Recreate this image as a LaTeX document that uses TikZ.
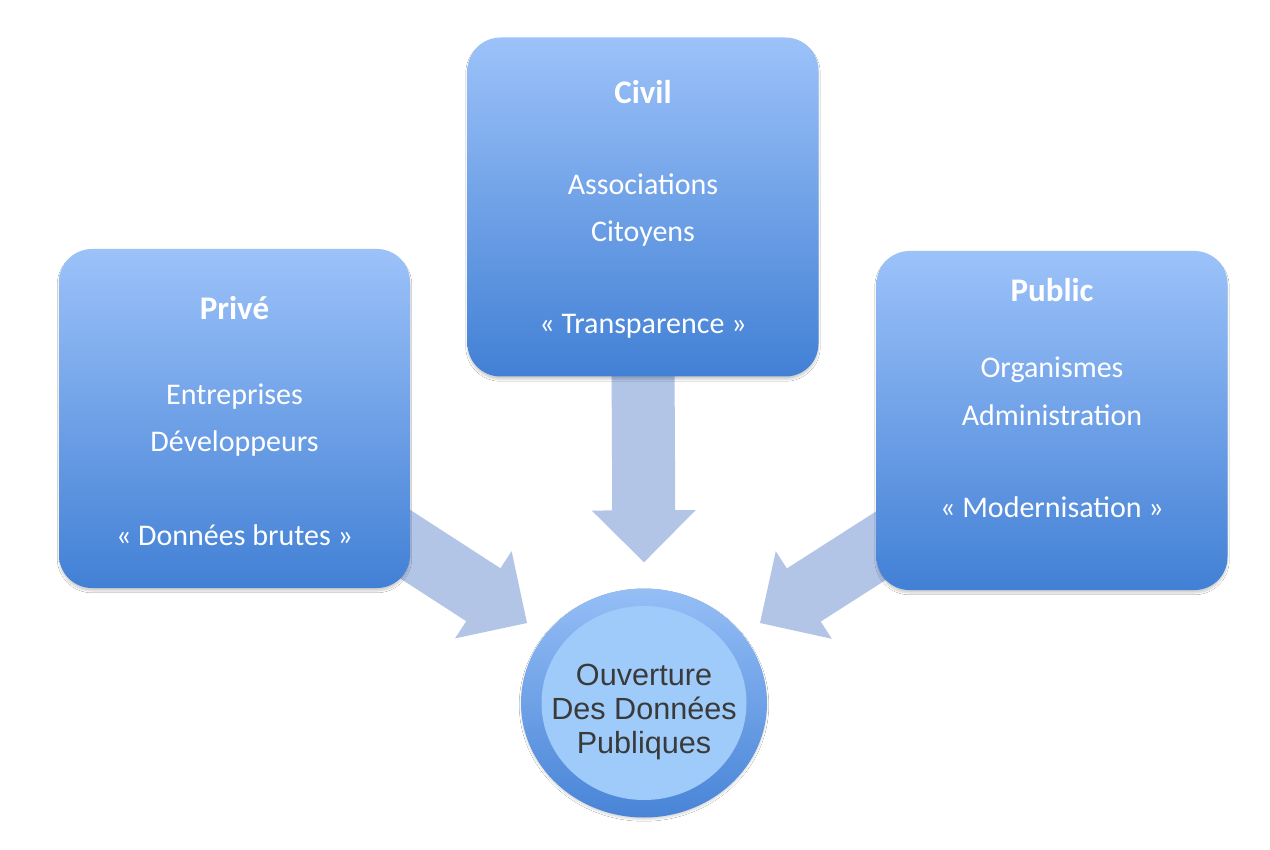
\documentclass[tikz,border=0pt]{standalone}
\usepackage{fontspec}
\newfontfamily\boxfont{Carlito}
\newfontfamily\hubfont{Liberation Sans}
\usetikzlibrary{calc,shapes.geometric,shadows.blur}
\pgfdeclarelayer{bg}
\pgfsetlayers{bg,main}

\definecolor{boxtop}{HTML}{9CC2F9}
\definecolor{boxbot}{HTML}{4280D5}
\definecolor{arrowblue}{HTML}{B2C5E7}
\definecolor{ringtop}{HTML}{95BEF6}
\definecolor{ringbot}{HTML}{4884D7}
\definecolor{hubfill}{HTML}{9ECBFA}
\definecolor{hubtext}{HTML}{3A3A3A}

\tikzset{
  sector/.style={rounded corners=33pt, minimum width=351pt, minimum height=339pt,
    inner sep=0pt, top color=boxtop, bottom color=boxbot,
    blur shadow={shadow xshift=0pt, shadow yshift=-3pt, shadow opacity=18, shadow blur steps=6}},
  title/.style={anchor=base, text=white, font=\boxfont\bfseries\fontsize{33}{40}\selectfont},
  entry/.style={anchor=base, text=white, font=\boxfont\fontsize{30}{36}\selectfont},
  hubtxt/.style={anchor=base, text=hubtext, font=\hubfont\fontsize{30.6}{36}\selectfont},
  flow/.style={fill=arrowblue},
}

% block arrow from #1 (start of shaft) to #2 (tip)
\newcommand\blockarrow[2]{%
  \coordinate (ab) at ($(#2)!52pt!(#1)$);
  \fill[flow] ($(#1)!31.5pt!90:(#2)$) -- ($(ab)!31.5pt!90:(#2)$)
    -- ($(ab)!52pt!90:(#2)$) -- (#2) -- ($(ab)!52pt!-90:(#2)$)
    -- ($(ab)!31.5pt!-90:(#2)$) -- ($(#1)!31.5pt!-90:(#2)$) -- cycle;}

\begin{document}
\begin{tikzpicture}[x=1pt,y=-1pt]
  \useasboundingbox (0,0) rectangle (1270,850);

  % the three sectors
  \node[sector] (prive)  at (234.5,418.5) {};
  \node[sector] (civil)  at (643,207) {};
  \node[sector] (public) at (1052,420.5) {};

  % central hub
  \node[ellipse, minimum width=246pt, minimum height=229pt, inner sep=0pt,
        top color=ringtop, bottom color=ringbot,
        blur shadow={shadow xshift=0pt, shadow yshift=-2pt, shadow opacity=15, shadow blur steps=6}]
        (hub) at (644,703) {};
  \node[ellipse, minimum width=205pt, minimum height=194pt, inner sep=0pt, fill=hubfill]
        (hubcore) at (hub.center) {};

  % flows into the hub, behind the boxes
  \coordinate (sC) at ($(civil.south)+(0,-20)$);
  \coordinate (tC) at ($(hub.north)+(0,-26)$);
  \coordinate (sL) at ($(prive.south east)+(-93,-101)$);
  \coordinate (tL) at ($(hub.center)+(-117,-80)$);
  \coordinate (sR) at ($(public.south west)+(93,-101)$);
  \coordinate (tR) at ($(hub.center)+(116,-80)$);
  \begin{pgfonlayer}{bg}
    \fill[white] (0,0) rectangle (1270,850);
    \blockarrow{sC}{tC}
    \blockarrow{sL}{tL}
    \blockarrow{sR}{tR}
  \end{pgfonlayer}

  % texts
  \node[title] (t1) at (234.5,320) {Privé};
  \node[entry] (e11) at (234.5,405) {Entreprises};
  \node[entry] (e12) at (234.5,452) {Développeurs};
  \node[entry] (e13) at (234.5,545) {«~Données brutes~»};

  \node[title] (t2) at (643,104) {Civil};
  \node[entry] (e21) at (643,195) {Associations};
  \node[entry] (e22) at (643,242) {Citoyens};
  \node[entry] (e23) at (643,334) {«~Transparence~»};

  \node[title] (t3) at (1052,302) {Public};
  \node[entry] (e31) at (1052,378) {Organismes};
  \node[entry] (e32) at (1052,425) {Administration};
  \node[entry] (e33) at (1052,517) {«~Modernisation~»};

  \node[hubtxt] (h1) at (644,685) {Ouverture};
  \node[hubtxt] (h2) at (644,719) {Des Données};
  \node[hubtxt] (h3) at (644,753) {Publiques};
\end{tikzpicture}
\end{document}
